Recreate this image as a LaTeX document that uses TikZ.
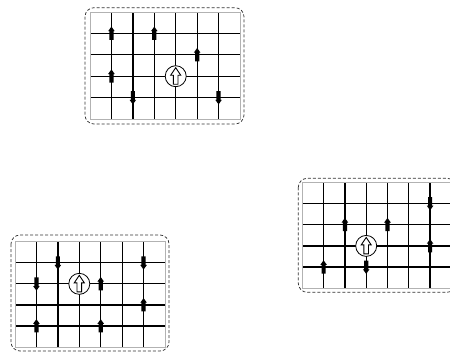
\documentclass[tikz,border=0pt]{standalone}
\begin{document}
\tikzset{
  gridline/.style={black, line width=1.3pt},
  gridthick/.style={black, line width=1.75pt},
  gridborder/.style={gray!60, line width=1pt},
  dashbox/.style={draw=black!80, line width=0.75pt, dash pattern=on 3pt off 2pt, rounded corners=9pt},
  bigspin/.style={circle, draw=black, line width=0.8pt, fill=white, minimum size=21pt, inner sep=0pt},
  pics/spinup/.style={code={\fill[black] (-2.1,6.5) -- (-2.1,-2.2) -- (-3.3,-2.2) -- (0,-6.8) -- (3.3,-2.2) -- (2.1,-2.2) -- (2.1,6.5) -- cycle;}},
  pics/spindown/.style={code={\fill[black,rotate=180] (-2.1,6.5) -- (-2.1,-2.2) -- (-3.3,-2.2) -- (0,-6.8) -- (3.3,-2.2) -- (2.1,-2.2) -- (2.1,6.5) -- cycle;}},
  pics/hollowup/.style={code={\draw[black,fill=white,line width=0.9pt,line join=miter] (-2.3,8) -- (-2.3,-1) -- (-5,-1) -- (0,-8.5) -- (5,-1) -- (2.3,-1) -- (2.3,8) -- cycle;}}
}
\newcommand\drawlattice[5]{% x0, y0, cw, ch, thick row
  \begin{scope}[shift={(#1,#2)}]
    \foreach \i in {1,...,6} \draw[gridline] (\i*#3,0) -- (\i*#3,5*#4);
    \foreach \j in {1,...,4} \draw[gridline] (0,\j*#4) -- (7*#3,\j*#4);
    \draw[gridthick] (0,#5*#4) -- (7*#3,#5*#4);
    \draw[gridborder] (0,0) rectangle (7*#3,5*#4);
  \end{scope}}
\begin{tikzpicture}[x=1pt,y=-1pt]
\useasboundingbox (0,0) rectangle (450,351);
\clip (0,0) rectangle (450,351);
% ---------- lattice 1 (top) ----------
\draw[dashbox] (85,7.7) rectangle (244,124);
\drawlattice{90}{12}{21.43}{21.4}{4}
\begin{scope}[shift={(90,12)}]
  \pic at (1*21.43,1*21.4) {spinup};
  \pic at (3*21.43,1*21.4) {spinup};
  \pic at (5*21.43,2*21.4) {spinup};
  \pic at (1*21.43,3*21.4) {spinup};
  \pic at (2*21.43,4*21.4) {spindown};
  \pic at (6*21.43,4*21.4) {spindown};
  \node[bigspin] (c1) at (4*21.43,3*21.4) {};
  \pic at (c1) {hollowup};
\end{scope}
% ---------- lattice 2 (right) ----------
\draw[dashbox] (298.3,178.3) rectangle (456,292.3);
\drawlattice{302.3}{182.3}{21.3}{21.2}{1}
\begin{scope}[shift={(302.3,182.3)}]
  \pic at (6*21.3,1*21.2) {spindown};
  \pic at (2*21.3,2*21.2) {spinup};
  \pic at (4*21.3,2*21.2) {spinup};
  \pic at (6*21.3,3*21.2) {spinup};
  \pic at (1*21.3,4*21.2) {spinup};
  \pic at (3*21.3,4*21.2) {spindown};
  \node[bigspin] (c2) at (3*21.3,3*21.2) {};
  \pic at (c2) {hollowup};
\end{scope}
% ---------- lattice 3 (bottom left) ----------
\draw[dashbox] (11,235) rectangle (169,351);
\drawlattice{15}{241.7}{21.43}{21.07}{4}
\begin{scope}[shift={(15,241.7)}]
  \pic at (2*21.43,1*21.07) {spindown};
  \pic at (6*21.43,1*21.07) {spindown};
  \pic at (1*21.43,2*21.07) {spindown};
  \pic at (4*21.43,2*21.07) {spinup};
  \pic at (6*21.43,3*21.07) {spinup};
  \pic at (1*21.43,4*21.07) {spinup};
  \pic at (4*21.43,4*21.07) {spinup};
  \node[bigspin] (c3) at (3*21.43,2*21.07) {};
  \pic at (c3) {hollowup};
\end{scope}
\end{tikzpicture}
\end{document}
